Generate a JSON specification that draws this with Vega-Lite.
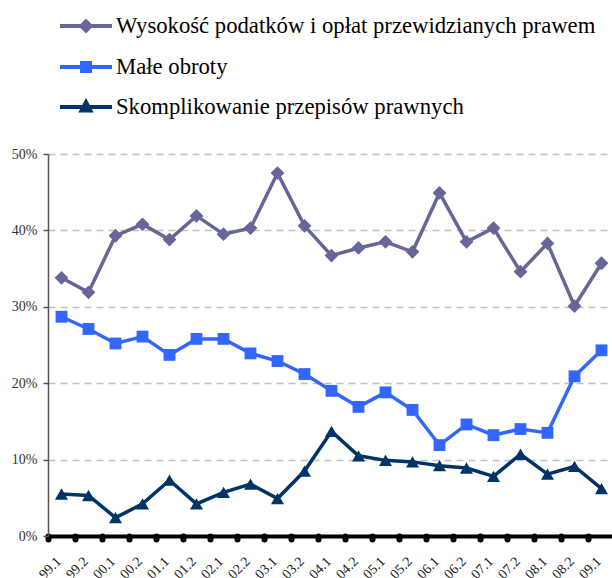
{
  "$schema": "https://vega.github.io/schema/vega-lite/v6.json",
  "autosize": {"type": "none"},
  "padding": {"left": 48, "top": 154, "right": 0, "bottom": 42},
  "width": 567,
  "height": 382,
  "background": "white",
  "config": {
    "view": {"stroke": null},
    "font": "Liberation Serif"
  },
  "data": {
    "values": [
      {"t":"99.1","s":"Wysokość podatków i opłat przewidzianych prawem","v":33.8},
      {"t":"99.2","s":"Wysokość podatków i opłat przewidzianych prawem","v":31.9},
      {"t":"00.1","s":"Wysokość podatków i opłat przewidzianych prawem","v":39.3},
      {"t":"00.2","s":"Wysokość podatków i opłat przewidzianych prawem","v":40.8},
      {"t":"01.1","s":"Wysokość podatków i opłat przewidzianych prawem","v":38.8},
      {"t":"01.2","s":"Wysokość podatków i opłat przewidzianych prawem","v":41.9},
      {"t":"02.1","s":"Wysokość podatków i opłat przewidzianych prawem","v":39.5},
      {"t":"02.2","s":"Wysokość podatków i opłat przewidzianych prawem","v":40.3},
      {"t":"03.1","s":"Wysokość podatków i opłat przewidzianych prawem","v":47.5},
      {"t":"03.2","s":"Wysokość podatków i opłat przewidzianych prawem","v":40.6},
      {"t":"04.1","s":"Wysokość podatków i opłat przewidzianych prawem","v":36.7},
      {"t":"04.2","s":"Wysokość podatków i opłat przewidzianych prawem","v":37.7},
      {"t":"05.1","s":"Wysokość podatków i opłat przewidzianych prawem","v":38.5},
      {"t":"05.2","s":"Wysokość podatków i opłat przewidzianych prawem","v":37.2},
      {"t":"06.1","s":"Wysokość podatków i opłat przewidzianych prawem","v":44.9},
      {"t":"06.2","s":"Wysokość podatków i opłat przewidzianych prawem","v":38.5},
      {"t":"07.1","s":"Wysokość podatków i opłat przewidzianych prawem","v":40.3},
      {"t":"07.2","s":"Wysokość podatków i opłat przewidzianych prawem","v":34.6},
      {"t":"08.1","s":"Wysokość podatków i opłat przewidzianych prawem","v":38.3},
      {"t":"08.2","s":"Wysokość podatków i opłat przewidzianych prawem","v":30.1},
      {"t":"09.1","s":"Wysokość podatków i opłat przewidzianych prawem","v":35.7},
      {"t":"99.1","s":"Małe obroty","v":28.7},
      {"t":"99.2","s":"Małe obroty","v":27.1},
      {"t":"00.1","s":"Małe obroty","v":25.2},
      {"t":"00.2","s":"Małe obroty","v":26.1},
      {"t":"01.1","s":"Małe obroty","v":23.7},
      {"t":"01.2","s":"Małe obroty","v":25.8},
      {"t":"02.1","s":"Małe obroty","v":25.8},
      {"t":"02.2","s":"Małe obroty","v":23.9},
      {"t":"03.1","s":"Małe obroty","v":22.9},
      {"t":"03.2","s":"Małe obroty","v":21.2},
      {"t":"04.1","s":"Małe obroty","v":19.0},
      {"t":"04.2","s":"Małe obroty","v":16.9},
      {"t":"05.1","s":"Małe obroty","v":18.8},
      {"t":"05.2","s":"Małe obroty","v":16.5},
      {"t":"06.1","s":"Małe obroty","v":11.9},
      {"t":"06.2","s":"Małe obroty","v":14.6},
      {"t":"07.1","s":"Małe obroty","v":13.2},
      {"t":"07.2","s":"Małe obroty","v":14.0},
      {"t":"08.1","s":"Małe obroty","v":13.5},
      {"t":"08.2","s":"Małe obroty","v":20.9},
      {"t":"09.1","s":"Małe obroty","v":24.3},
      {"t":"99.1","s":"Skomplikowanie przepisów prawnych","v":5.5},
      {"t":"99.2","s":"Skomplikowanie przepisów prawnych","v":5.3},
      {"t":"00.1","s":"Skomplikowanie przepisów prawnych","v":2.4},
      {"t":"00.2","s":"Skomplikowanie przepisów prawnych","v":4.2},
      {"t":"01.1","s":"Skomplikowanie przepisów prawnych","v":7.3},
      {"t":"01.2","s":"Skomplikowanie przepisów prawnych","v":4.2},
      {"t":"02.1","s":"Skomplikowanie przepisów prawnych","v":5.7},
      {"t":"02.2","s":"Skomplikowanie przepisów prawnych","v":6.8},
      {"t":"03.1","s":"Skomplikowanie przepisów prawnych","v":4.9},
      {"t":"03.2","s":"Skomplikowanie przepisów prawnych","v":8.5},
      {"t":"04.1","s":"Skomplikowanie przepisów prawnych","v":13.7},
      {"t":"04.2","s":"Skomplikowanie przepisów prawnych","v":10.5},
      {"t":"05.1","s":"Skomplikowanie przepisów prawnych","v":9.9},
      {"t":"05.2","s":"Skomplikowanie przepisów prawnych","v":9.7},
      {"t":"06.1","s":"Skomplikowanie przepisów prawnych","v":9.2},
      {"t":"06.2","s":"Skomplikowanie przepisów prawnych","v":8.9},
      {"t":"07.1","s":"Skomplikowanie przepisów prawnych","v":7.8},
      {"t":"07.2","s":"Skomplikowanie przepisów prawnych","v":10.7},
      {"t":"08.1","s":"Skomplikowanie przepisów prawnych","v":8.1},
      {"t":"08.2","s":"Skomplikowanie przepisów prawnych","v":9.1},
      {"t":"09.1","s":"Skomplikowanie przepisów prawnych","v":6.2}
    ]
  },
  "encoding": {
    "x": {
      "field": "t", "type": "ordinal", "sort": null,
      "scale": {"paddingInner": 0, "paddingOuter": 0},
      "axis": {
        "title": null, "domainColor": "black", "domainWidth": 4,
        "tickBand": "extent", "tickColor": "black", "tickWidth": 6, "tickSize": 3, "tickCap": "round",
        "labelAngle": -45, "labelAlign": "right", "labelBaseline": "middle",
        "labelOffset": -3, "labelPadding": 20, "labelFontSize": 14, "labelColor": "#222", "labelFont": "Liberation Serif",
        "grid": false
      }
    },
    "y": {
      "field": "v", "type": "quantitative",
      "scale": {"domain": [0, 50], "nice": false},
      "axis": {
        "title": null, "values": [0, 10, 20, 30, 40, 50],
        "labelExpr": "datum.value + '%'",
        "labelFontSize": 14, "labelColor": "#333", "labelFont": "Liberation Serif", "labelPadding": 6,
        "domainColor": "#555", "domainWidth": 1.5, "tickColor": "#555", "tickSize": 5, "tickWidth": 1.5,
        "grid": true, "gridColor": "#c0c0c0", "gridDash": [7, 5], "gridWidth": 1.5
      }
    },
    "color": {
      "field": "s", "type": "nominal",
      "scale": {
        "domain": ["Wysokość podatków i opłat przewidzianych prawem", "Małe obroty", "Skomplikowanie przepisów prawnych"],
        "range": ["#666699", "#3366ff", "#003366"]
      },
      "legend": {
        "title": null, "orient": "none", "direction": "vertical",
        "legendX": 16, "legendY": -150, "padding": 0,
        "symbolSize": 1600, "symbolType": "stroke", "rowPadding": 6,
        "labelFont": "Liberation Serif", "labelFontSize": 22.7, "labelColor": "black", "labelOffset": 8, "labelLimit": 700,
        "encode": {
          "symbols": {
            "update": {
              "shape": {"signal": "datum.index === 0 ? 'M-1.3,0H1.3M0,-0.23L0.23,0L0,0.23L-0.23,0Z' : datum.index === 1 ? 'M-1.3,0H1.3M-0.2,-0.2H0.2V0.2H-0.2Z' : 'M-1.3,0H1.3M0,-0.24L0.22,0.18H-0.22Z'"},
              "fill": {"scale": "color", "field": "value"},
              "stroke": {"scale": "color", "field": "value"},
              "strokeWidth": {"value": 4},
              "opacity": {"value": 1},
              "fillOpacity": {"value": 1}
            }
          }
        }
      }
    }
  },
  "layer": [
    {"mark": {"type": "line", "strokeWidth": 3.5}},
    {
      "transform": [{"filter": "datum.s === 'Wysokość podatków i opłat przewidzianych prawem'"}],
      "mark": {"type": "point", "filled": true, "shape": "diamond", "size": 190, "opacity": 1}
    },
    {
      "transform": [{"filter": "datum.s === 'Małe obroty'"}],
      "mark": {"type": "point", "filled": true, "shape": "square", "size": 140, "opacity": 1}
    },
    {
      "transform": [{"filter": "datum.s === 'Skomplikowanie przepisów prawnych'"}],
      "mark": {"type": "point", "filled": true, "shape": "triangle-up", "size": 170, "opacity": 1}
    }
  ]
}
